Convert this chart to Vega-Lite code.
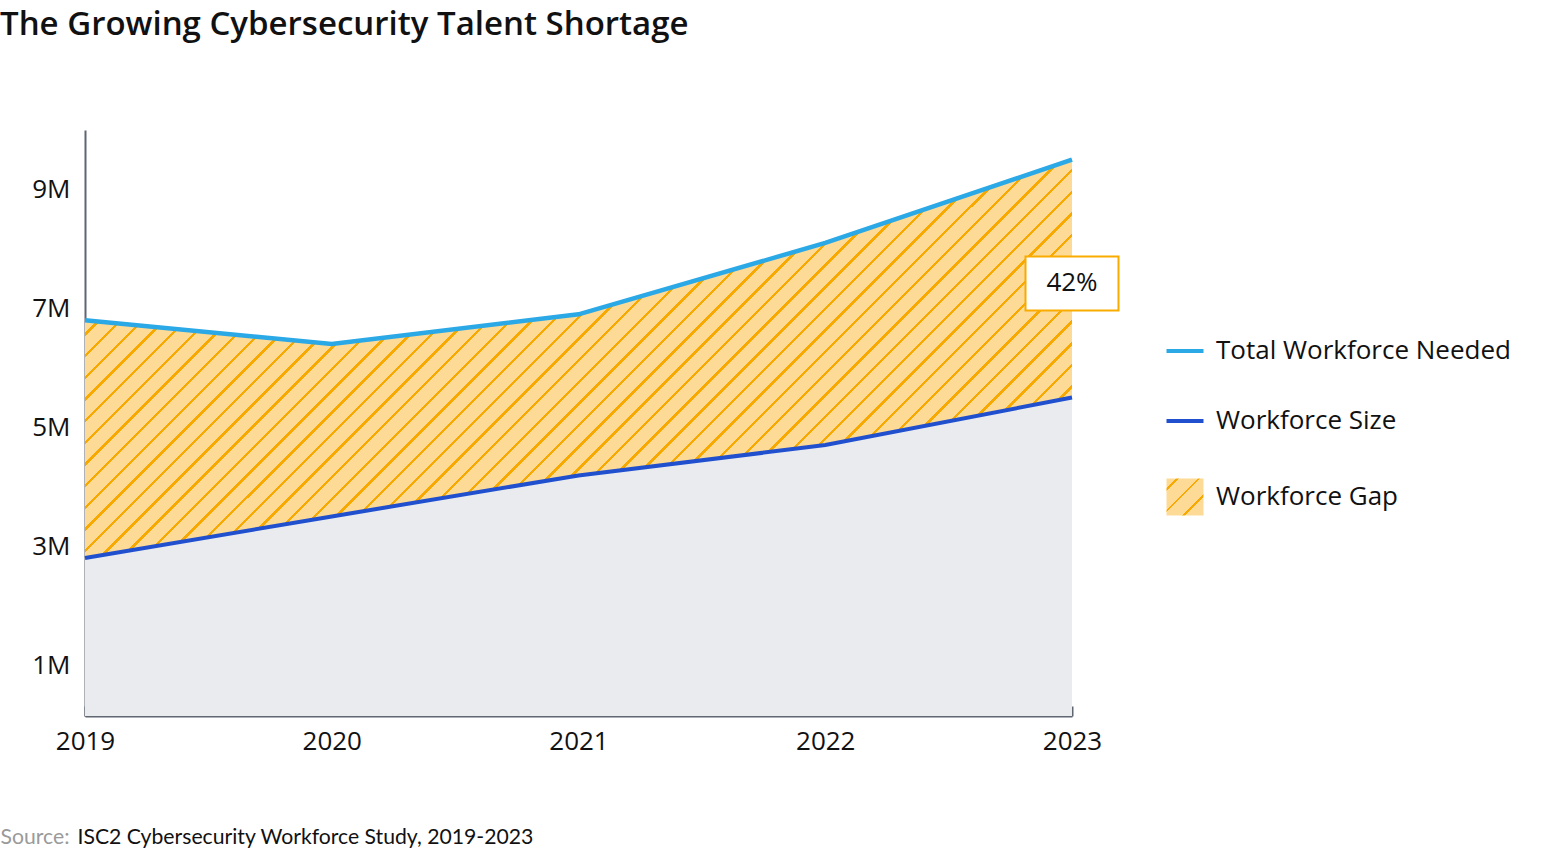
{
  "$schema": "https://vega.github.io/schema/vega-lite/v6.json",
  "width": 987,
  "height": 586,
  "autosize": {"type": "none"},
  "padding": {"left": 85, "top": 130, "right": 488, "bottom": 136},
  "background": "white",
  "config": {
    "font": "Open Sans",
    "view": {"stroke": null},
    "axis": {"grid": false, "domainColor": "#5F6571", "domainWidth": 2, "labelFontSize": 25, "labelColor": "#111111", "labelFont": "Open Sans"}
  },
  "title": {
    "text": "The Growing Cybersecurity Talent Shortage",
    "anchor": "start",
    "frame": "group",
    "dx": -85,
    "offset": 88,
    "fontSize": 33,
    "fontWeight": 600,
    "color": "#111111",
    "font": "Open Sans"
  },
  "data": {
    "values": [
      {"year": 2019, "needed": 6800000, "size": 2800000},
      {"year": 2020, "needed": 6400000, "size": 3500000},
      {"year": 2021, "needed": 6900000, "size": 4190000},
      {"year": 2022, "needed": 8100000, "size": 4700000},
      {"year": 2023, "needed": 9500000, "size": 5500000}
    ]
  },
  "encoding": {
    "x": {
      "field": "year",
      "type": "quantitative",
      "scale": {"domain": [2019, 2023], "nice": false, "zero": false},
      "axis": {
        "values": [2019, 2020, 2021, 2022, 2023],
        "format": "d",
        "labelFlush": false,
        "labelFontSize": 26,
        "tickColor": "#5F6571",
        "tickWidth": 2,
        "tickSize": -10,
        "labelPadding": 22,
        "title": "ISC2 Cybersecurity Workforce Study, 2019-2023",
        "titleAnchor": "start",
        "titleAlign": "left",
        "titleX": -8,
        "titleY": 127,
        "titleBaseline": "alphabetic",
        "titleFontSize": 21.2,
        "titleFontWeight": "normal",
        "titleColor": "#111111",
        "titleFont": "Lato"
      }
    }
  },
  "layer": [
    {
      "mark": {"type": "area", "color": "#E9EBEE", "clip": true},
      "encoding": {
        "y": {
          "field": "size",
          "type": "quantitative",
          "scale": {"domain": [143000, 10000000], "nice": false, "zero": false},
          "title": "Source:",
          "axis": {
            "values": [1000000, 3000000, 5000000, 7000000, 9000000],
            "labelExpr": "(datum.value / 1000000) + 'M'",
            "ticks": false,
            "labelPadding": 15,
            "labelFontSize": 26,
            "titleAngle": 0,
            "titleAlign": "left",
            "titleX": -85,
            "titleY": 713,
            "titleBaseline": "alphabetic",
            "titleFontSize": 21.2,
            "titleFontWeight": "normal",
            "titleColor": "#9A9A9A",
            "titleFont": "Lato"
          }
        }
      }
    },
    {
      "mark": {
        "type": "area",
        "fill": {
          "gradient": "linear",
          "x1": 0, "y1": 0, "x2": 1.207, "y2": 0.4872,
          "stops": [
            {"offset": 0, "color": "#F8A900"}, {"offset": 0.0025, "color": "#F8A900"}, {"offset": 0.0025, "color": "#FDDA96"}, {"offset": 0.015625, "color": "#FDDA96"},
            {"offset": 0.015625, "color": "#F8A900"}, {"offset": 0.018125, "color": "#F8A900"}, {"offset": 0.018125, "color": "#FDDA96"}, {"offset": 0.03125, "color": "#FDDA96"},
            {"offset": 0.03125, "color": "#F8A900"}, {"offset": 0.03375, "color": "#F8A900"}, {"offset": 0.03375, "color": "#FDDA96"}, {"offset": 0.046875, "color": "#FDDA96"},
            {"offset": 0.046875, "color": "#F8A900"}, {"offset": 0.049375, "color": "#F8A900"}, {"offset": 0.049375, "color": "#FDDA96"}, {"offset": 0.0625, "color": "#FDDA96"},
            {"offset": 0.0625, "color": "#F8A900"}, {"offset": 0.065, "color": "#F8A900"}, {"offset": 0.065, "color": "#FDDA96"}, {"offset": 0.078125, "color": "#FDDA96"},
            {"offset": 0.078125, "color": "#F8A900"}, {"offset": 0.080625, "color": "#F8A900"}, {"offset": 0.080625, "color": "#FDDA96"}, {"offset": 0.09375, "color": "#FDDA96"},
            {"offset": 0.09375, "color": "#F8A900"}, {"offset": 0.09625, "color": "#F8A900"}, {"offset": 0.09625, "color": "#FDDA96"}, {"offset": 0.109375, "color": "#FDDA96"},
            {"offset": 0.109375, "color": "#F8A900"}, {"offset": 0.111875, "color": "#F8A900"}, {"offset": 0.111875, "color": "#FDDA96"}, {"offset": 0.125, "color": "#FDDA96"},
            {"offset": 0.125, "color": "#F8A900"}, {"offset": 0.1275, "color": "#F8A900"}, {"offset": 0.1275, "color": "#FDDA96"}, {"offset": 0.140625, "color": "#FDDA96"},
            {"offset": 0.140625, "color": "#F8A900"}, {"offset": 0.143125, "color": "#F8A900"}, {"offset": 0.143125, "color": "#FDDA96"}, {"offset": 0.15625, "color": "#FDDA96"},
            {"offset": 0.15625, "color": "#F8A900"}, {"offset": 0.15875, "color": "#F8A900"}, {"offset": 0.15875, "color": "#FDDA96"}, {"offset": 0.171875, "color": "#FDDA96"},
            {"offset": 0.171875, "color": "#F8A900"}, {"offset": 0.174375, "color": "#F8A900"}, {"offset": 0.174375, "color": "#FDDA96"}, {"offset": 0.1875, "color": "#FDDA96"},
            {"offset": 0.1875, "color": "#F8A900"}, {"offset": 0.19, "color": "#F8A900"}, {"offset": 0.19, "color": "#FDDA96"}, {"offset": 0.203125, "color": "#FDDA96"},
            {"offset": 0.203125, "color": "#F8A900"}, {"offset": 0.205625, "color": "#F8A900"}, {"offset": 0.205625, "color": "#FDDA96"}, {"offset": 0.21875, "color": "#FDDA96"},
            {"offset": 0.21875, "color": "#F8A900"}, {"offset": 0.22125, "color": "#F8A900"}, {"offset": 0.22125, "color": "#FDDA96"}, {"offset": 0.234375, "color": "#FDDA96"},
            {"offset": 0.234375, "color": "#F8A900"}, {"offset": 0.236875, "color": "#F8A900"}, {"offset": 0.236875, "color": "#FDDA96"}, {"offset": 0.25, "color": "#FDDA96"},
            {"offset": 0.25, "color": "#F8A900"}, {"offset": 0.2525, "color": "#F8A900"}, {"offset": 0.2525, "color": "#FDDA96"}, {"offset": 0.265625, "color": "#FDDA96"},
            {"offset": 0.265625, "color": "#F8A900"}, {"offset": 0.268125, "color": "#F8A900"}, {"offset": 0.268125, "color": "#FDDA96"}, {"offset": 0.28125, "color": "#FDDA96"},
            {"offset": 0.28125, "color": "#F8A900"}, {"offset": 0.28375, "color": "#F8A900"}, {"offset": 0.28375, "color": "#FDDA96"}, {"offset": 0.296875, "color": "#FDDA96"},
            {"offset": 0.296875, "color": "#F8A900"}, {"offset": 0.299375, "color": "#F8A900"}, {"offset": 0.299375, "color": "#FDDA96"}, {"offset": 0.3125, "color": "#FDDA96"},
            {"offset": 0.3125, "color": "#F8A900"}, {"offset": 0.315, "color": "#F8A900"}, {"offset": 0.315, "color": "#FDDA96"}, {"offset": 0.328125, "color": "#FDDA96"},
            {"offset": 0.328125, "color": "#F8A900"}, {"offset": 0.330625, "color": "#F8A900"}, {"offset": 0.330625, "color": "#FDDA96"}, {"offset": 0.34375, "color": "#FDDA96"},
            {"offset": 0.34375, "color": "#F8A900"}, {"offset": 0.34625, "color": "#F8A900"}, {"offset": 0.34625, "color": "#FDDA96"}, {"offset": 0.359375, "color": "#FDDA96"},
            {"offset": 0.359375, "color": "#F8A900"}, {"offset": 0.361875, "color": "#F8A900"}, {"offset": 0.361875, "color": "#FDDA96"}, {"offset": 0.375, "color": "#FDDA96"},
            {"offset": 0.375, "color": "#F8A900"}, {"offset": 0.3775, "color": "#F8A900"}, {"offset": 0.3775, "color": "#FDDA96"}, {"offset": 0.390625, "color": "#FDDA96"},
            {"offset": 0.390625, "color": "#F8A900"}, {"offset": 0.393125, "color": "#F8A900"}, {"offset": 0.393125, "color": "#FDDA96"}, {"offset": 0.40625, "color": "#FDDA96"},
            {"offset": 0.40625, "color": "#F8A900"}, {"offset": 0.40875, "color": "#F8A900"}, {"offset": 0.40875, "color": "#FDDA96"}, {"offset": 0.421875, "color": "#FDDA96"},
            {"offset": 0.421875, "color": "#F8A900"}, {"offset": 0.424375, "color": "#F8A900"}, {"offset": 0.424375, "color": "#FDDA96"}, {"offset": 0.4375, "color": "#FDDA96"},
            {"offset": 0.4375, "color": "#F8A900"}, {"offset": 0.44, "color": "#F8A900"}, {"offset": 0.44, "color": "#FDDA96"}, {"offset": 0.453125, "color": "#FDDA96"},
            {"offset": 0.453125, "color": "#F8A900"}, {"offset": 0.455625, "color": "#F8A900"}, {"offset": 0.455625, "color": "#FDDA96"}, {"offset": 0.46875, "color": "#FDDA96"},
            {"offset": 0.46875, "color": "#F8A900"}, {"offset": 0.47125, "color": "#F8A900"}, {"offset": 0.47125, "color": "#FDDA96"}, {"offset": 0.484375, "color": "#FDDA96"},
            {"offset": 0.484375, "color": "#F8A900"}, {"offset": 0.486875, "color": "#F8A900"}, {"offset": 0.486875, "color": "#FDDA96"}, {"offset": 0.5, "color": "#FDDA96"},
            {"offset": 0.5, "color": "#F8A900"}, {"offset": 0.5025, "color": "#F8A900"}, {"offset": 0.5025, "color": "#FDDA96"}, {"offset": 0.515625, "color": "#FDDA96"},
            {"offset": 0.515625, "color": "#F8A900"}, {"offset": 0.518125, "color": "#F8A900"}, {"offset": 0.518125, "color": "#FDDA96"}, {"offset": 0.53125, "color": "#FDDA96"},
            {"offset": 0.53125, "color": "#F8A900"}, {"offset": 0.53375, "color": "#F8A900"}, {"offset": 0.53375, "color": "#FDDA96"}, {"offset": 0.546875, "color": "#FDDA96"},
            {"offset": 0.546875, "color": "#F8A900"}, {"offset": 0.549375, "color": "#F8A900"}, {"offset": 0.549375, "color": "#FDDA96"}, {"offset": 0.5625, "color": "#FDDA96"},
            {"offset": 0.5625, "color": "#F8A900"}, {"offset": 0.565, "color": "#F8A900"}, {"offset": 0.565, "color": "#FDDA96"}, {"offset": 0.578125, "color": "#FDDA96"},
            {"offset": 0.578125, "color": "#F8A900"}, {"offset": 0.580625, "color": "#F8A900"}, {"offset": 0.580625, "color": "#FDDA96"}, {"offset": 0.59375, "color": "#FDDA96"},
            {"offset": 0.59375, "color": "#F8A900"}, {"offset": 0.59625, "color": "#F8A900"}, {"offset": 0.59625, "color": "#FDDA96"}, {"offset": 0.609375, "color": "#FDDA96"},
            {"offset": 0.609375, "color": "#F8A900"}, {"offset": 0.611875, "color": "#F8A900"}, {"offset": 0.611875, "color": "#FDDA96"}, {"offset": 0.625, "color": "#FDDA96"},
            {"offset": 0.625, "color": "#F8A900"}, {"offset": 0.6275, "color": "#F8A900"}, {"offset": 0.6275, "color": "#FDDA96"}, {"offset": 0.640625, "color": "#FDDA96"},
            {"offset": 0.640625, "color": "#F8A900"}, {"offset": 0.643125, "color": "#F8A900"}, {"offset": 0.643125, "color": "#FDDA96"}, {"offset": 0.65625, "color": "#FDDA96"},
            {"offset": 0.65625, "color": "#F8A900"}, {"offset": 0.65875, "color": "#F8A900"}, {"offset": 0.65875, "color": "#FDDA96"}, {"offset": 0.671875, "color": "#FDDA96"},
            {"offset": 0.671875, "color": "#F8A900"}, {"offset": 0.674375, "color": "#F8A900"}, {"offset": 0.674375, "color": "#FDDA96"}, {"offset": 0.6875, "color": "#FDDA96"},
            {"offset": 0.6875, "color": "#F8A900"}, {"offset": 0.69, "color": "#F8A900"}, {"offset": 0.69, "color": "#FDDA96"}, {"offset": 0.703125, "color": "#FDDA96"},
            {"offset": 0.703125, "color": "#F8A900"}, {"offset": 0.705625, "color": "#F8A900"}, {"offset": 0.705625, "color": "#FDDA96"}, {"offset": 0.71875, "color": "#FDDA96"},
            {"offset": 0.71875, "color": "#F8A900"}, {"offset": 0.72125, "color": "#F8A900"}, {"offset": 0.72125, "color": "#FDDA96"}, {"offset": 0.734375, "color": "#FDDA96"},
            {"offset": 0.734375, "color": "#F8A900"}, {"offset": 0.736875, "color": "#F8A900"}, {"offset": 0.736875, "color": "#FDDA96"}, {"offset": 0.75, "color": "#FDDA96"},
            {"offset": 0.75, "color": "#F8A900"}, {"offset": 0.7525, "color": "#F8A900"}, {"offset": 0.7525, "color": "#FDDA96"}, {"offset": 0.765625, "color": "#FDDA96"},
            {"offset": 0.765625, "color": "#F8A900"}, {"offset": 0.768125, "color": "#F8A900"}, {"offset": 0.768125, "color": "#FDDA96"}, {"offset": 0.78125, "color": "#FDDA96"},
            {"offset": 0.78125, "color": "#F8A900"}, {"offset": 0.78375, "color": "#F8A900"}, {"offset": 0.78375, "color": "#FDDA96"}, {"offset": 0.796875, "color": "#FDDA96"},
            {"offset": 0.796875, "color": "#F8A900"}, {"offset": 0.799375, "color": "#F8A900"}, {"offset": 0.799375, "color": "#FDDA96"}, {"offset": 0.8125, "color": "#FDDA96"},
            {"offset": 0.8125, "color": "#F8A900"}, {"offset": 0.815, "color": "#F8A900"}, {"offset": 0.815, "color": "#FDDA96"}, {"offset": 0.828125, "color": "#FDDA96"},
            {"offset": 0.828125, "color": "#F8A900"}, {"offset": 0.830625, "color": "#F8A900"}, {"offset": 0.830625, "color": "#FDDA96"}, {"offset": 0.84375, "color": "#FDDA96"},
            {"offset": 0.84375, "color": "#F8A900"}, {"offset": 0.84625, "color": "#F8A900"}, {"offset": 0.84625, "color": "#FDDA96"}, {"offset": 0.859375, "color": "#FDDA96"},
            {"offset": 0.859375, "color": "#F8A900"}, {"offset": 0.861875, "color": "#F8A900"}, {"offset": 0.861875, "color": "#FDDA96"}, {"offset": 0.875, "color": "#FDDA96"},
            {"offset": 0.875, "color": "#F8A900"}, {"offset": 0.8775, "color": "#F8A900"}, {"offset": 0.8775, "color": "#FDDA96"}, {"offset": 0.890625, "color": "#FDDA96"},
            {"offset": 0.890625, "color": "#F8A900"}, {"offset": 0.893125, "color": "#F8A900"}, {"offset": 0.893125, "color": "#FDDA96"}, {"offset": 0.90625, "color": "#FDDA96"},
            {"offset": 0.90625, "color": "#F8A900"}, {"offset": 0.90875, "color": "#F8A900"}, {"offset": 0.90875, "color": "#FDDA96"}, {"offset": 0.921875, "color": "#FDDA96"},
            {"offset": 0.921875, "color": "#F8A900"}, {"offset": 0.924375, "color": "#F8A900"}, {"offset": 0.924375, "color": "#FDDA96"}, {"offset": 0.9375, "color": "#FDDA96"},
            {"offset": 0.9375, "color": "#F8A900"}, {"offset": 0.94, "color": "#F8A900"}, {"offset": 0.94, "color": "#FDDA96"}, {"offset": 0.953125, "color": "#FDDA96"},
            {"offset": 0.953125, "color": "#F8A900"}, {"offset": 0.955625, "color": "#F8A900"}, {"offset": 0.955625, "color": "#FDDA96"}, {"offset": 0.96875, "color": "#FDDA96"},
            {"offset": 0.96875, "color": "#F8A900"}, {"offset": 0.97125, "color": "#F8A900"}, {"offset": 0.97125, "color": "#FDDA96"}, {"offset": 0.984375, "color": "#FDDA96"},
            {"offset": 0.984375, "color": "#F8A900"}, {"offset": 0.986875, "color": "#F8A900"}, {"offset": 0.986875, "color": "#FDDA96"}, {"offset": 1, "color": "#FDDA96"}
          ]
        }
      },
      "encoding": {
        "y": {"field": "needed", "type": "quantitative", "title": "Source:"},
        "y2": {"field": "size"}
      }
    },
    {
      "mark": {"type": "line", "strokeWidth": 4.5},
      "encoding": {
        "y": {"field": "needed", "type": "quantitative", "title": "Source:"},
        "color": {
          "datum": "Total Workforce Needed",
          "type": "nominal",
          "scale": {
            "domain": ["Total Workforce Needed", "Workforce Size", "Workforce Gap"],
            "range": ["#2BA8E6", "#2150CF", "#FDDA96"]
          },
          "legend": {
            "orient": "none",
            "legendX": 1087,
            "legendY": 208,
            "title": null,
            "padding": 0,
            "labelFontSize": 26,
            "labelColor": "#111111",
            "labelFont": "Open Sans",
            "labelLimit": 0,
            "labelOffset": 18,
            "symbolSize": 1369,
            "symbolStrokeWidth": 4,
            "symbolType": "stroke",
            "rowPadding": 44,
            "encode": {
              "symbols": {
                "update": {
                  "shape": {"signal": "datum.value === 'Workforce Gap' ? 'square' : 'stroke'"},
                  "strokeWidth": {"signal": "datum.value === 'Workforce Gap' ? 0 : 4"},
                  "opacity": {"value": 1},
                  "fill": {
                    "value": {
                      "gradient": "linear",
                      "x1": 0, "y1": 0, "x2": 1, "y2": 1,
                      "stops": [
                        {"offset": 0, "color": "#FDDA96"}, {"offset": 0.13, "color": "#FDDA96"},
                        {"offset": 0.13, "color": "#F8A900"}, {"offset": 0.168, "color": "#F8A900"},
                        {"offset": 0.168, "color": "#FDDA96"}, {"offset": 0.42, "color": "#FDDA96"},
                        {"offset": 0.42, "color": "#F8A900"}, {"offset": 0.458, "color": "#F8A900"},
                        {"offset": 0.458, "color": "#FDDA96"}, {"offset": 0.71, "color": "#FDDA96"},
                        {"offset": 0.71, "color": "#F8A900"}, {"offset": 0.748, "color": "#F8A900"},
                        {"offset": 0.748, "color": "#FDDA96"}, {"offset": 1, "color": "#FDDA96"}
                      ]
                    }
                  }
                }
              }
            }
          }
        }
      }
    },
    {
      "mark": {"type": "line", "strokeWidth": 4},
      "encoding": {
        "y": {"field": "size", "type": "quantitative", "title": "Source:"},
        "color": {"datum": "Workforce Size", "type": "nominal"}
      }
    },
    {
      "data": {"values": [{"year": 2023, "value": 7420000, "label": "42%"}]},
      "mark": {
        "type": "point",
        "shape": "M-1.722,-1L1.722,-1L1.722,1L-1.722,1Z",
        "size": 2916,
        "filled": true,
        "fill": "#FFFFFF",
        "fillOpacity": 1,
        "opacity": 1,
        "stroke": "#F9AB00",
        "strokeWidth": 2
      },
      "encoding": {
        "y": {"field": "value", "type": "quantitative", "title": "Source:"}
      }
    },
    {
      "data": {"values": [{"year": 2023, "value": 7420000, "label": "42%"}]},
      "mark": {"type": "text", "fontSize": 26, "color": "#111111", "font": "Open Sans", "align": "center", "baseline": "middle"},
      "encoding": {
        "y": {"field": "value", "type": "quantitative", "title": "Source:"},
        "text": {"field": "label"}
      }
    }
  ]
}
